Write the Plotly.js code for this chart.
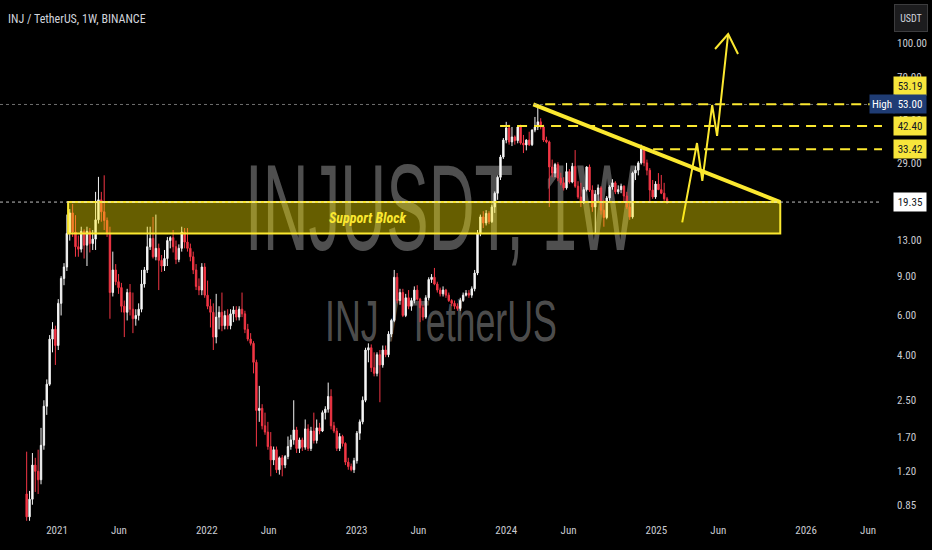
<!DOCTYPE html>
<html><head><meta charset="utf-8">
<script src="https://cdn.plot.ly/plotly-3.0.1.min.js"></script>
<style>html,body{margin:0;padding:0;background:#000;}#chart{width:932px;height:550px;}</style>
</head><body><div id="chart"></div>
<script>
// ---- weekly INJ/USDT candles (Binance, 1W), first week starting 2020-10-19 ----
const firstWeekUTC = Date.UTC(2020, 9, 19);
const openP = [
0.95,0.75,0.90,1.28,1.20,1.10,1.57,2.35,2.95,4.70,
5.20,4.40,6.80,8.80,9.90,14.0,17.3,14.2,12.2,11.9,
14.3,12.4,14.3,12.6,13.2,16.1,19.8,17.5,16.0,14.0,
7.6,9.6,8.5,8.0,6.6,6.2,7.6,6.4,5.8,6.0,
6.4,8.3,9.6,12.2,13.3,11.0,12.0,10.6,10.0,10.8,
13.0,13.4,12.2,10.7,12.0,14.2,12.8,12.0,11.0,9.6,
8.1,7.8,9.9,7.4,6.6,6.2,4.8,5.9,6.2,5.4,
6.0,5.4,6.1,6.35,5.9,6.4,6.1,5.2,4.7,4.5,
3.7,2.25,2.3,1.92,1.80,1.55,1.35,1.50,1.22,1.38,
1.28,1.40,1.55,1.66,1.84,1.52,1.66,1.54,1.86,1.52,
1.82,1.65,1.88,1.82,2.2,2.28,2.6,1.92,1.82,1.52,
1.72,1.60,1.32,1.26,1.22,1.34,1.78,2.0,2.5,4.2,
4.3,3.5,3.3,4.0,3.6,4.2,4.0,4.95,5.7,8.9,
7.0,7.6,6.0,7.2,6.6,7.0,7.8,7.1,6.5,5.9,
7.2,8.7,8.9,8.3,7.8,7.5,7.8,7.4,7.0,6.8,
6.6,6.45,7.0,7.4,7.55,7.4,7.9,9.3,14.0,16.6,
15.6,17.2,15.8,18.4,21.2,25.0,30.8,36.7,41.6,36.0,
37.9,36.5,42.0,35.6,34.9,36.7,35.0,40.7,42.0,44.3,
42.0,36.7,36.0,27.8,26.1,28.5,24.8,23.6,22.4,26.5,
23.8,28.0,22.8,20.4,19.5,22.0,27.8,21.9,18.4,21.0,
22.4,17.8,16.5,20.2,22.6,23.6,21.5,22.0,22.8,20.6,
18.4,16.6,26.1,26.9,29.0,33.5,29.0,26.9,21.9,20.4,
23.3,22.0,21.2,20.0];
const highP = [
1.47,0.98,1.45,1.38,1.50,1.88,2.50,3.10,4.90,5.60,
5.40,7.10,9.00,10.3,17.0,18.0,19.0,16.9,13.7,15.0,
14.6,15.0,14.8,14.5,21.5,25.1,21.5,25.5,16.5,15.0,
11.6,10.2,9.2,8.4,7.0,7.9,8.3,7.6,6.4,6.8,
9.6,9.9,15.0,15.0,16.6,17.0,12.6,11.2,11.8,13.5,
13.6,14.5,13.0,12.5,15.0,14.8,14.8,12.6,11.6,10.2,
8.8,10.3,10.3,8.6,7.1,6.8,7.5,6.6,7.6,6.3,
6.4,6.4,6.6,6.6,6.6,7.6,6.3,5.5,5.0,4.6,
3.8,2.9,2.4,2.2,2.0,1.8,1.55,1.55,1.40,1.42,
1.42,1.72,1.75,2.5,1.90,1.70,1.70,2.05,1.95,1.90,
2.2,2.05,1.98,2.25,2.35,3.0,2.8,2.0,1.88,1.78,
1.75,1.62,1.38,1.30,1.38,1.82,2.05,2.6,4.3,4.5,
4.45,4.1,4.1,4.2,4.4,4.4,5.1,5.8,9.6,9.3,
7.9,7.9,7.5,7.8,7.2,8.1,8.2,7.2,6.7,7.4,
8.9,9.2,9.8,8.5,8.0,8.1,7.9,7.6,7.1,7.0,
6.8,7.2,7.6,7.8,7.8,8.1,9.6,14.5,17.0,17.6,
17.8,17.6,18.8,21.6,25.5,31.5,37.5,44.3,43.0,42.0,
38.5,42.5,43.0,38.7,37.0,40.0,41.0,46.6,53.0,46.0,
43.0,38.0,36.5,30.0,29.0,29.2,26.2,25.0,29.0,27.2,
29.0,33.1,24.0,23.6,22.6,28.0,28.5,23.0,21.9,23.2,
22.8,19.8,20.6,23.0,24.5,24.0,23.0,23.4,23.0,21.5,
19.5,26.5,28.0,29.5,35.0,34.5,30.0,27.5,24.3,24.0,
26.1,25.6,23.6,20.4];
const lowP = [
0.72,0.72,0.85,0.97,0.95,1.05,1.50,2.15,2.90,4.10,
3.60,4.20,6.00,8.20,9.50,13.0,13.5,11.0,11.0,11.5,
10.8,10.0,11.5,11.8,11.8,15.5,15.8,14.5,13.5,5.8,
7.3,8.2,7.5,6.2,4.8,5.7,6.0,5.0,5.4,5.7,
6.2,8.0,9.3,11.8,10.8,10.6,7.8,9.4,9.5,10.0,
12.0,11.5,10.2,10.4,11.6,12.0,11.6,10.5,9.2,7.8,
7.4,7.4,7.2,6.4,5.3,4.2,4.5,5.2,5.1,5.2,
5.2,5.2,5.6,5.7,5.7,5.9,5.0,4.6,4.4,3.3,
1.55,2.0,1.85,1.75,1.5,1.14,1.28,1.18,1.16,1.14,
1.24,1.36,1.50,1.58,1.45,1.45,1.48,1.50,1.48,1.48,
1.60,1.60,1.76,1.80,2.05,2.2,1.85,1.78,1.48,1.48,
1.55,1.28,1.22,1.20,1.18,1.30,1.66,1.95,2.45,3.7,
3.35,3.2,3.2,2.45,3.5,3.9,3.9,4.8,5.6,6.8,
6.7,5.9,5.9,6.4,6.3,6.8,7.0,5.6,5.7,5.8,
7.0,8.4,8.2,7.6,7.3,7.3,7.2,6.9,6.6,6.4,
6.3,6.3,6.9,7.3,7.2,7.2,7.7,9.1,13.6,14.8,
15.2,15.4,15.6,17.3,19.8,24.3,30.2,35.5,35.0,34.5,
35.0,35.5,35.0,32.1,33.0,34.5,34.5,39.8,40.7,41.0,
36.0,35.5,18.4,25.0,25.0,24.0,23.0,21.8,22.0,23.4,
23.5,22.4,20.0,18.4,19.0,21.6,21.5,17.5,14.0,19.5,
17.0,15.0,16.2,19.6,22.0,21.0,21.0,21.2,19.5,18.0,
16.1,16.3,24.3,25.5,28.5,28.0,25.5,19.4,20.0,20.0,
21.9,21.0,19.6,19.0];
const closeP = [
0.75,0.90,1.28,1.20,1.10,1.57,2.35,2.95,4.70,5.20,
4.40,6.80,8.80,9.90,14.0,17.3,14.2,12.2,11.9,14.3,
12.4,14.3,12.6,13.2,16.1,19.8,17.5,16.0,14.0,7.6,
9.6,8.5,8.0,6.6,6.2,7.6,6.4,5.8,6.0,6.4,
8.3,9.6,12.2,13.3,11.0,12.0,10.6,10.0,10.8,13.0,
13.4,12.2,10.7,12.0,14.2,12.8,12.0,11.0,9.6,8.1,
7.8,9.9,7.4,6.6,6.2,4.8,5.9,6.2,5.4,6.0,
5.4,6.1,6.35,5.9,6.4,6.1,5.2,4.7,4.5,3.7,
2.25,2.3,1.92,1.80,1.55,1.35,1.50,1.22,1.38,1.28,
1.40,1.55,1.66,1.84,1.52,1.66,1.54,1.86,1.52,1.82,
1.65,1.88,1.82,2.2,2.28,2.6,1.92,1.82,1.52,1.72,
1.60,1.32,1.26,1.22,1.34,1.78,2.0,2.5,4.2,4.3,
3.5,3.3,4.0,3.6,4.2,4.0,4.95,5.7,8.9,7.0,
7.6,6.0,7.2,6.6,7.0,7.8,7.1,6.5,5.9,7.2,
8.7,8.9,8.3,7.8,7.5,7.8,7.4,7.0,6.8,6.6,
6.45,7.0,7.4,7.55,7.4,7.9,9.3,14.0,16.6,15.6,
17.2,15.8,18.4,21.2,25.0,30.8,36.7,41.6,36.0,37.9,
36.5,42.0,35.6,34.9,36.7,35.0,40.7,42.0,44.3,42.0,
36.7,36.0,27.8,26.1,28.5,24.8,23.6,22.4,26.5,23.8,
28.0,22.8,20.4,19.5,22.0,27.8,21.9,18.4,21.0,22.4,
17.8,16.5,20.2,22.6,23.6,21.5,22.0,22.8,20.6,18.4,
16.6,26.1,26.9,29.0,33.5,29.0,26.9,21.9,20.4,23.3,
22.0,21.2,20.0,19.35];
const weeks = openP.map((_, i) => new Date(firstWeekUTC + i * 7 * 86400000).toISOString().slice(0, 10));

// ---- chart drawings (in price / date units) ----
const lastPrice = 19.35;
const highPrice = 53.00;
const supportZone = [14.0, 19.35];
const supportDates = ['2021-01-28', '2025-10-30'];
const supportLabelAt = ['2023-01-27', 16.4];
const targetLevels = [53.19, 42.40, 33.42];
const targetStarts = ['2024-04-05', '2023-12-17', '2024-12-24'];
const trendDates = ['2024-03-07', '2025-10-30'];
const trendPrices = [53.0, 19.35];
const arrowDates = ['2025-03-05', '2025-04-10', '2025-04-23', '2025-05-17', '2025-05-29', '2025-06-25', null, '2025-05-24', '2025-06-25', '2025-07-19'];
const arrowPrices = [15.7, 35.6, 24.1, 52.7, 38.3, 109.7, null, 94.0, 109.7, 89.3];

// ---- axes ----
const yTickVals = [0.85, 1.2, 1.7, 2.5, 4, 6, 9, 13, 29, 45, 70, 100];
const xTickVals = ['2021-01-01','2021-06-01','2022-01-01','2022-06-01','2023-01-01','2023-06-01','2024-01-01','2024-06-01','2025-01-01','2025-06-01','2026-01-01','2026-06-01'];
const xTickText = ['2021','Jun','2022','Jun','2023','Jun','2024','Jun','2025','Jun','2026','Jun'];
const xRange = ['2020-08-15', '2026-07-05'];
const yRangeLog = [-0.148, 2.1928];

const YEL = '#fbe830';
const NARROW = 'Liberation Sans Narrow, Roboto Condensed, DejaVu Sans Condensed, Liberation Sans, sans-serif';
const TXT = '#c9cbd1';
const L = Math.log10;

const traces = [
  {type: 'candlestick', x: weeks, open: openP, high: highP, low: lowP, close: closeP,
   increasing: {line: {color: '#f2f2f2', width: 1}, fillcolor: '#ffffff'},
   decreasing: {line: {color: '#f23645', width: 1}, fillcolor: '#f23645'},
   whiskerwidth: 0, hoverinfo: 'skip', showlegend: false},
  {type: 'scatter', mode: 'lines', x: trendDates, y: trendPrices,
   line: {color: YEL, width: 4}, hoverinfo: 'skip', showlegend: false},
  {type: 'scatter', mode: 'lines', x: arrowDates, y: arrowPrices, connectgaps: false,
   line: {color: YEL, width: 2}, hoverinfo: 'skip', showlegend: false}
];

// shapes on the log axis take price values directly
const shapes = [
  {type: 'rect', layer: 'below', xref: 'paper', yref: 'paper', x0: 0.22, x1: 0.78, y0: 0.57, y1: 0.68,
   line: {width: 0}, fillcolor: 'rgba(0,0,0,0)',
   label: {text: 'INJUSDT, 1W', textposition: 'middle center', font: {family: 'Liberation Sans, sans-serif', size: 122, color: 'rgba(128,128,128,0.62)'}}},
  {type: 'rect', layer: 'below', xref: 'paper', yref: 'paper', x0: 0.3, x1: 0.7, y0: 0.365, y1: 0.425,
   line: {width: 0}, fillcolor: 'rgba(0,0,0,0)',
   label: {text: 'INJ / TetherUS', textposition: 'middle center', font: {family: 'Liberation Sans, sans-serif', size: 58, color: 'rgba(128,128,128,0.62)'}}},
  {type: 'line', xref: 'paper', x0: 0, x1: 1, yref: 'y', y0: highPrice, y1: highPrice,
   line: {color: 'rgba(170,170,170,0.65)', width: 1, dash: 'dot'}},
  {type: 'rect', xref: 'x', yref: 'y', x0: supportDates[0], x1: supportDates[1], y0: supportZone[0], y1: supportZone[1],
   fillcolor: 'rgba(255,235,0,0.40)', line: {color: YEL, width: 2}},
  {type: 'line', xref: 'paper', x0: 0, x1: 1, yref: 'y', y0: lastPrice, y1: lastPrice,
   line: {color: 'rgba(225,225,225,0.85)', width: 1, dash: 'dot'}}
];
targetLevels.forEach((lv, i) => shapes.push({type: 'line', xref: 'x', x0: targetStarts[i], x1: xRange[1], yref: 'y', y0: lv, y1: lv,
  line: {color: YEL, width: 2, dash: '10px,7px'}}));

// annotations on the log axis take log10(price)
function priceBox(val, bg, fg, yshift) {
  return {xref: 'paper', x: 1, xanchor: 'left', xshift: 11, yref: 'y', y: L(val), yanchor: 'middle', yshift: yshift || 0,
    text: val.toFixed(2), showarrow: false, bgcolor: bg, width: 30, height: 16, borderpad: 1, align: 'center',
    font: {family: NARROW, size: 11, color: fg}};
}
const annotations = [
  {xref: 'paper', x: 0, xanchor: 'left', xshift: 6, yref: 'paper', y: 1, yanchor: 'top', yshift: -10,
   text: 'INJ / TetherUS, 1W, BINANCE', showarrow: false, font: {family: NARROW, size: 12, color: '#d1d4dc'}},
  {xref: 'x', x: supportLabelAt[0], yref: 'y', y: L(supportLabelAt[1]), text: 'Support Block', showarrow: false,
   font: {family: NARROW, size: 14, color: YEL, weight: 'bold', style: 'italic'}},
  {xref: 'paper', x: 1, xanchor: 'left', xshift: 12, yref: 'paper', y: 1, yanchor: 'top', yshift: -4,
   text: 'USDT', showarrow: false, bgcolor: '#1c1c1e', bordercolor: '#3c3c3e', borderwidth: 1, width: 30, height: 24,
   font: {family: NARROW, size: 10, color: '#d1d4dc'}},
  priceBox(targetLevels[0], '#f7e53b', '#131722', 18),
  priceBox(highPrice, '#1f3c74', '#ffffff', 0),
  {xref: 'paper', x: 1, xanchor: 'left', xshift: -13, yref: 'y', y: L(highPrice), yanchor: 'middle',
   text: 'High', showarrow: false, bgcolor: '#1f3c74', width: 22, height: 16, borderpad: 1,
   font: {family: NARROW, size: 11, color: '#ffffff'}},
  priceBox(targetLevels[1], '#f7e53b', '#131722', 0),
  priceBox(targetLevels[2], '#f7e53b', '#131722', 0),
  priceBox(lastPrice, '#ffffff', '#131722', 0)
];

const layout = {
  width: 932, height: 550, margin: {l: 0, r: 50, t: 0, b: 28},
  paper_bgcolor: '#000000', plot_bgcolor: '#000000', showlegend: false, hovermode: false,
  xaxis: {type: 'date', range: xRange, tickvals: xTickVals, ticktext: xTickText, showgrid: false, zeroline: false,
    showline: false, ticks: '', rangeslider: {visible: false}, tickfont: {family: NARROW, size: 11, color: TXT}},
  yaxis: {type: 'log', side: 'right', range: yRangeLog, tickvals: yTickVals, ticktext: yTickVals.map(v => v.toFixed(2)),
    showgrid: false, zeroline: false, showline: false, ticks: '', ticklabelstandoff: 14,
    tickfont: {family: NARROW, size: 11, color: TXT}},
  shapes: shapes, annotations: annotations
};

const watermarkWidths = {'INJUSDT, 1W': 392, 'INJ / TetherUS': 232};
Plotly.newPlot('chart', traces, layout, {staticPlot: true, displayModeBar: false}).then(gd => {
  gd.querySelectorAll('text').forEach(el => {
    const w = watermarkWidths[el.textContent];
    if (!w) return;
    const b = el.getBBox();
    if (!b.width) return;
    const s = w / b.width, cx = b.x + b.width / 2;
    const t0 = el.getAttribute('transform') || '';
    el.setAttribute('transform', t0 + ' translate(' + cx + ',0) scale(' + s + ',1) translate(' + (-cx) + ',0)');
  });
});
</script></body></html>
